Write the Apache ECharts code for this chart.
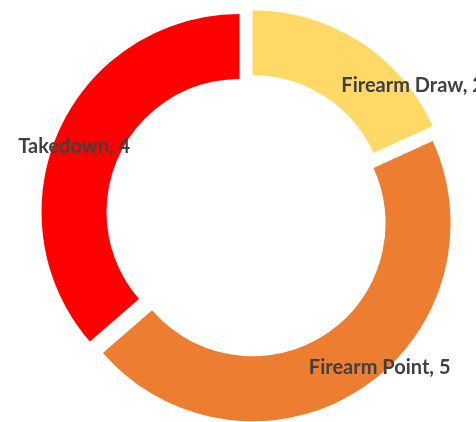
<!DOCTYPE html>
<html>
<head>
<meta charset="utf-8">
<script src="https://cdn.jsdelivr.net/npm/echarts@6/dist/echarts.min.js"></script>
<style>
html,body{margin:0;padding:0;background:#fff;}
#chart{width:476px;height:422px;}
</style>
</head>
<body>
<div id="chart"></div>
<script>
const categories = ['Firearm Draw', 'Firearm Point', 'Takedown'];
const values = [2, 5, 4];
const colors = ['#FFD966', '#ED7D31', '#FF0000'];

// label nudges (style only)
const labelNudge = [[69, 19], [36, 3], [-12, 5]];

const chart = echarts.init(document.getElementById('chart'), null, {renderer: 'canvas'});
chart.setOption({
  animation: false,
  backgroundColor: '#ffffff',
  series: [{
    type: 'pie',
    center: [247.7, 215.7],
    radius: [133, 198],
    startAngle: 90,
    clockwise: true,
    selectedMode: 'multiple',
    selectedOffset: 9,
    emphasis: {disabled: true},
    select: {itemStyle: {borderWidth: 0}},
    itemStyle: {borderWidth: 0},
    label: {
      show: true,
      position: 'inside',
      formatter: p => p.name + ', ' + p.value,
      color: '#404040',
      fontFamily: 'Lato',
      fontWeight: 'bold',
      fontSize: 20
    },
    labelLine: {show: false},
    labelLayout: function (params) {
      const n = labelNudge[params.dataIndex];
      return {dx: n[0], dy: n[1]};
    },
    data: categories.map((c, i) => ({
      name: c,
      value: values[i],
      selected: true,
      itemStyle: {color: colors[i]}
    }))
  }]
});
</script>
</body>
</html>
